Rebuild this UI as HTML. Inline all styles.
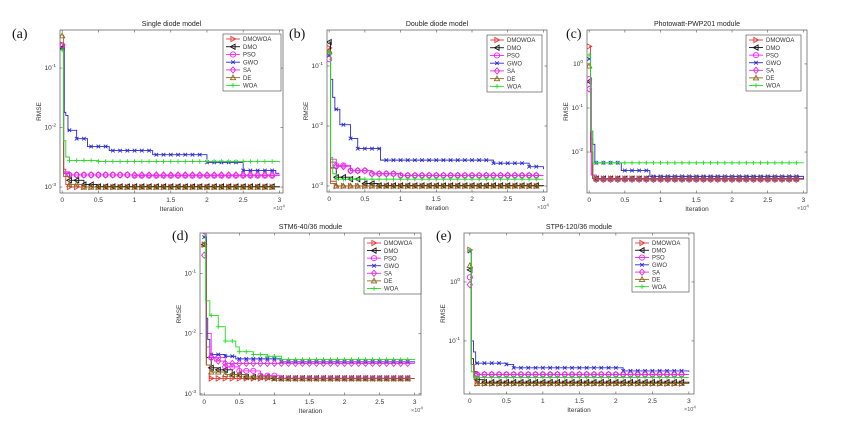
<!DOCTYPE html>
<html><head><meta charset="utf-8"><style>
html,body{margin:0;padding:0;background:#fff;}
svg{display:block;font-family:"Liberation Sans",Arial,sans-serif;}
</style></head><body>
<svg id="fig" width="850" height="428" viewBox="0 0 850 428" xmlns="http://www.w3.org/2000/svg"></svg>
<script>
// ---- data (x in units of 1e4 iterations, y = RMSE) ----
const seriesNames = ["DMOWOA","DMO","PSO","GWO","SA","DE","WOA"];
const panelTitles = ["Single diode model","Double diode model","Photowatt-PWP201 module","STM6-40/36 module","STP6-120/36 module"];
const panelLetters = ["(a)","(b)","(c)","(d)","(e)"];
const xTicks = [0,0.5,1,1.5,2,2.5,3];
const xTickLabels = ["0","0.5","1","1.5","2","2.5","3"];
const yTicksA = [-3,-2,-1];
const yTicksB = [-3,-2,-1];
const yTicksC = [-2,-1,0];
const yTicksD = [-3,-2,-1];
const yTicksE = [-1,0];

const dataA_DMOWOA=[[0,0.25],[0.02,0.002],[0.05,0.0011],[0.1,0.001],[3,0.001]];
const dataA_DMO=[[0,0.22],[0.02,0.0017],[0.1,0.0013],[0.3,0.0011],[0.5,0.00102],[3,0.001]];
const dataA_PSO=[[0,0.24],[0.02,0.0018],[0.1,0.0016],[1,0.00155],[3,0.00155]];
const dataA_GWO=[[0,0.22],[0.03,0.018],[0.05,0.016],[0.08,0.009],[0.2,0.0065],[0.35,0.0048],[0.65,0.0041],[1.25,0.0035],[2,0.0026],[2.5,0.0019],[2.95,0.0017],[3,0.0017]];
const dataA_SA=[[0,0.24],[0.02,0.0017],[0.1,0.0016],[3,0.00155]];
const dataA_DE=[[0,0.35],[0.02,0.0015],[0.1,0.0011],[0.3,0.001],[3,0.00098]];
const dataA_WOA=[[0,0.2],[0.02,0.006],[0.05,0.0032],[0.1,0.0028],[0.5,0.0027],[3,0.0026]];

const dataB_DMOWOA=[[0,0.2],[0.02,0.0012],[0.1,0.001],[3,0.001]];
const dataB_DMO=[[0,0.25],[0.02,0.002],[0.1,0.0014],[0.3,0.0013],[0.5,0.0011],[0.7,0.00102],[3,0.001]];
const dataB_PSO=[[0,0.13],[0.02,0.0028],[0.1,0.0022],[0.3,0.0018],[0.6,0.0016],[1,0.0015],[3,0.0015]];
const dataB_GWO=[[0,0.15],[0.02,0.06],[0.05,0.03],[0.08,0.019],[0.15,0.0105],[0.3,0.0062],[0.4,0.0042],[0.72,0.0027],[2.3,0.0024],[2.8,0.0021],[3,0.0019]];
const dataB_SA=[[0,0.16],[0.02,0.0025],[0.1,0.0021],[0.3,0.0018],[0.6,0.0016],[1,0.0015],[3,0.0015]];
const dataB_DE=[[0,0.18],[0.02,0.0011],[0.1,0.001],[3,0.001]];
const dataB_WOA=[[0,0.17],[0.02,0.003],[0.05,0.0016],[0.1,0.0013],[3,0.0013]];

const dataC_DMOWOA=[[0,2.5],[0.02,0.02],[0.05,0.0025],[3,0.0024]];
const dataC_DMO=[[0,0.4],[0.02,0.01],[0.05,0.0025],[3,0.0024]];
const dataC_PSO=[[0,0.45],[0.03,0.003],[0.1,0.0024],[3,0.0024]];
const dataC_GWO=[[0,1.3],[0.02,0.03],[0.05,0.015],[0.08,0.0057],[0.45,0.0038],[0.85,0.0028],[3,0.0025]];
const dataC_SA=[[0,0.27],[0.03,0.003],[0.1,0.0024],[3,0.0024]];
const dataC_DE=[[0,0.9],[0.02,0.01],[0.05,0.0025],[3,0.0024]];
const dataC_WOA=[[0,1.6],[0.02,0.03],[0.05,0.0057],[3,0.0056]];

const dataD_DMOWOA=[[0,0.3],[0.03,0.003],[0.08,0.0018],[3,0.0018]];
const dataD_DMO=[[0,0.3],[0.03,0.004],[0.1,0.0027],[0.2,0.0025],[0.4,0.0021],[0.6,0.0019],[1,0.0018],[3,0.0018]];
const dataD_PSO=[[0,0.5],[0.03,0.01],[0.1,0.004],[0.3,0.0028],[0.5,0.0024],[0.8,0.002],[1.1,0.0018],[3,0.0018]];
const dataD_GWO=[[0,0.4],[0.03,0.018],[0.05,0.008],[0.08,0.0045],[0.3,0.0042],[0.45,0.0038],[1.1,0.0034],[3,0.0033]];
const dataD_SA=[[0,0.2],[0.03,0.006],[0.08,0.004],[0.15,0.0035],[0.3,0.0032],[3,0.0032]];
const dataD_DE=[[0,0.3],[0.03,0.003],[0.1,0.0023],[0.3,0.0021],[0.6,0.0019],[1,0.0018],[3,0.0018]];
const dataD_WOA=[[0,0.5],[0.02,0.035],[0.08,0.02],[0.2,0.013],[0.3,0.0075],[0.45,0.006],[0.5,0.005],[0.7,0.0045],[0.9,0.0042],[1.1,0.0037],[3,0.0036]];

const dataE_DMOWOA=[[0,3.5],[0.02,0.04],[0.06,0.022],[0.1,0.019],[3,0.019]];
const dataE_DMO=[[0,1.6],[0.02,0.05],[0.05,0.03],[0.1,0.022],[0.2,0.02],[3,0.019]];
const dataE_PSO=[[0,1.2],[0.02,0.04],[0.05,0.028],[0.1,0.027],[3,0.027]];
const dataE_GWO=[[0,3.3],[0.02,0.1],[0.05,0.065],[0.08,0.042],[0.5,0.04],[0.6,0.035],[2.1,0.031],[3,0.03]];
const dataE_SA=[[0,0.9],[0.02,0.04],[0.05,0.028],[0.1,0.027],[3,0.027]];
const dataE_DE=[[0,1.9],[0.02,0.04],[0.06,0.022],[0.1,0.019],[3,0.019]];
const dataE_WOA=[[0,3.5],[0.02,0.03],[0.05,0.024],[3,0.024]];

// ---- styling / layout ----
const colors = ["#e83a3a","#111111","#ff22ff","#2a2ad0","#e030e0","#8a6a20","#22dd22"];
const markers = ["tri-right","tri-left","circle","x","diamond","tri-up","plus"];
const panels = [
 {L:60,T:30,R:283,B:193,xmin:-0.03,xmax:3.05,ymin:-3.1,ymax:-0.36,yt:yTicksA,data:[dataA_DMOWOA,dataA_DMO,dataA_PSO,dataA_GWO,dataA_SA,dataA_DE,dataA_WOA],leg:[223,34,58,57],lx:12,ly:38},
 {L:327,T:30,R:547,B:192,xmin:-0.03,xmax:3.05,ymin:-3.1,ymax:-0.4,yt:yTicksB,data:[dataB_DMOWOA,dataB_DMO,dataB_PSO,dataB_GWO,dataB_SA,dataB_DE,dataB_WOA],leg:[487,35,55,57],lx:289,ly:38},
 {L:587,T:30,R:807,B:193,xmin:-0.03,xmax:3.05,ymin:-2.93,ymax:0.77,yt:yTicksC,data:[dataC_DMOWOA,dataC_DMO,dataC_PSO,dataC_GWO,dataC_SA,dataC_DE,dataC_WOA],leg:[746,35,55,56],lx:566,ly:38},
 {L:200,T:233,R:421,B:395,xmin:-0.06,xmax:3.09,ymin:-3.02,ymax:-0.33,yt:yTicksD,data:[dataD_DMOWOA,dataD_DMO,dataD_PSO,dataD_GWO,dataD_SA,dataD_DE,dataD_WOA],leg:[364,238,57,56],lx:172,ly:240},
 {L:464,T:233,R:694,B:394,xmin:-0.08,xmax:3.07,ymin:-1.9,ymax:0.83,yt:yTicksE,data:[dataE_DMOWOA,dataE_DMO,dataE_PSO,dataE_GWO,dataE_SA,dataE_DE,dataE_WOA],leg:[632,238,57,54],lx:436,ly:240}
];
const NS="http://www.w3.org/2000/svg";
const svg=document.getElementById('fig');
function mk(tag,attrs,parent){const e=document.createElementNS(NS,tag);for(const k in attrs)e.setAttribute(k,attrs[k]);(parent||svg).appendChild(e);return e;}
function stepVal(d,x){let v=d[0][1];for(const p of d){if(p[0]<=x)v=p[1];else break;}return v;}
function drawMarker(g,type,cx,cy,col){
  const r=2.6;let e;
  if(type==="circle")e=mk('circle',{cx,cy,r,fill:'none',stroke:col,'stroke-width':0.9},g);
  else if(type==="diamond")e=mk('polygon',{points:`${cx},${cy-r-0.5} ${cx+r},${cy} ${cx},${cy+r+0.5} ${cx-r},${cy}`,fill:'none',stroke:col,'stroke-width':0.9},g);
  else if(type==="tri-up")e=mk('polygon',{points:`${cx},${cy-r} ${cx+r},${cy+r*0.8} ${cx-r},${cy+r*0.8}`,fill:'none',stroke:col,'stroke-width':0.9},g);
  else if(type==="tri-right")e=mk('polygon',{points:`${cx+r},${cy} ${cx-r*0.8},${cy-r} ${cx-r*0.8},${cy+r}`,fill:'none',stroke:col,'stroke-width':0.9},g);
  else if(type==="tri-left")e=mk('polygon',{points:`${cx-r},${cy} ${cx+r*0.8},${cy-r} ${cx+r*0.8},${cy+r}`,fill:'none',stroke:col,'stroke-width':0.9},g);
  else if(type==="x")e=mk('path',{d:`M${cx-1.8},${cy-1.8}L${cx+1.8},${cy+1.8}M${cx-1.8},${cy+1.8}L${cx+1.8},${cy-1.8}`,stroke:col,'stroke-width':0.9},g);
  else e=mk('path',{d:`M${cx-2.2},${cy}L${cx+2.2},${cy}M${cx},${cy-2.2}L${cx},${cy+2.2}`,stroke:col,'stroke-width':0.9},g);
  
  
}
panels.forEach((P,pi)=>{
  const g=mk('g',{});
  
  
  const sx=v=>P.L+(v-P.xmin)/(P.xmax-P.xmin)*(P.R-P.L);
  const sy=v=>P.B-(Math.log10(v)-P.ymin)/(P.ymax-P.ymin)*(P.B-P.T);
  const syl=l=>P.B-(l-P.ymin)/(P.ymax-P.ymin)*(P.B-P.T);
  const clip='clip'+pi;
  const cp=mk('clipPath',{id:clip},g);mk('rect',{x:P.L,y:P.T,width:P.R-P.L,height:P.B-P.T},cp);
  const frame=mk('rect',{x:P.L,y:P.T,width:P.R-P.L,height:P.B-P.T,fill:'#fff',stroke:'#555','stroke-width':0.7},g);
  
  // x ticks
  xTicks.forEach((t,i)=>{
    mk('line',{x1:sx(t),x2:sx(t),y1:P.B,y2:P.B-2.5,stroke:'#555','stroke-width':0.6},g);
    mk('line',{x1:sx(t),x2:sx(t),y1:P.T,y2:P.T+2.5,stroke:'#555','stroke-width':0.6},g);
    const tx=mk('text',{x:sx(t),y:P.B+9,'font-size':6.5,'text-anchor':'middle',fill:'#333'},g);
    tx.textContent=xTickLabels[i];
    
  });
  // y ticks
  P.yt.forEach(l=>{
    const y=syl(l);
    mk('line',{x1:P.L,x2:P.L+2.5,y1:y,y2:y,stroke:'#555','stroke-width':0.6},g);
    mk('line',{x1:P.R,x2:P.R-2.5,y1:y,y2:y,stroke:'#555','stroke-width':0.6},g);
    const tx=mk('text',{x:P.L-4,y:y+2,'font-size':6.5,'text-anchor':'end',fill:'#333'},g);
    
    const b=mk('tspan',{},tx);b.textContent='10';
    const s=mk('tspan',{dy:-3,'font-size':4.8},tx);s.textContent=String(l);
  });
  // series
  const sg=mk('g',{'clip-path':`url(#${clip})`},g);
  P.data.forEach((d,si)=>{
    const col=colors[si];
    let path=`M${sx(d[0][0])},${sy(d[0][1])}`;
    for(let k=1;k<d.length;k++){path+=`L${sx(d[k][0])},${sy(d[k-1][1])}L${sx(d[k][0])},${sy(d[k][1])}`;}
    const ln=mk('path',{d:path,fill:'none',stroke:col,'stroke-width':0.9},sg);
    
    
    drawMarker(sg,markers[si],sx(d[0][0]),sy(d[0][1]),col);
    for(let k=1;k<=29;k++){const x=k/10;drawMarker(sg,markers[si],sx(x),sy(stepVal(d,x)),col);}
  });
  // legend
  const [lx,ly,lw,lh]=P.leg;
  const lg=mk('g',{},g);
  
  mk('rect',{x:lx,y:ly,width:lw,height:lh,fill:'#fff',stroke:'#444','stroke-width':0.6},lg);
  seriesNames.forEach((n,si)=>{
    const y=ly+5+si*(lh-6)/6.6;
    const e=mk('g',{},lg);
    
    
    mk('line',{x1:lx+3,x2:lx+17,y1:y,y2:y,stroke:colors[si],'stroke-width':0.9},e);
    drawMarker(e,markers[si],lx+10,y,colors[si]);
    const t=mk('text',{x:lx+20,y:y+2.2,'font-size':6,fill:'#333'},e);t.textContent=n;
  });
  // titles & labels
  const ti=mk('text',{x:(P.L+P.R)/2,y:P.T-4,'font-size':7,'text-anchor':'middle',fill:'#222'},g);ti.textContent=panelTitles[pi];
  
  const pl=mk('text',{x:P.lx,y:P.ly,'font-size':14,'font-family':'"Liberation Serif",serif',fill:'#111'},g);pl.textContent=panelLetters[pi];
  
  const yl=mk('text',{x:0,y:0,'font-size':6.5,'text-anchor':'middle',fill:'#333',transform:`translate(${P.L-19},${(P.T+P.B)/2}) rotate(-90)`},g);yl.textContent='RMSE';
  
  const xl=mk('text',{x:(P.L+P.R)/2,y:P.B+18,'font-size':6.5,'text-anchor':'middle',fill:'#333'},g);xl.textContent='Iteration';
  
  const xm=mk('text',{x:P.R-10,y:P.B+17,'font-size':5.5,fill:'#555'},g);
  
  const a=mk('tspan',{},xm);a.textContent='×10';const b=mk('tspan',{dy:-2.5,'font-size':4.5},xm);b.textContent='4';
});
</script>
</body></html>
